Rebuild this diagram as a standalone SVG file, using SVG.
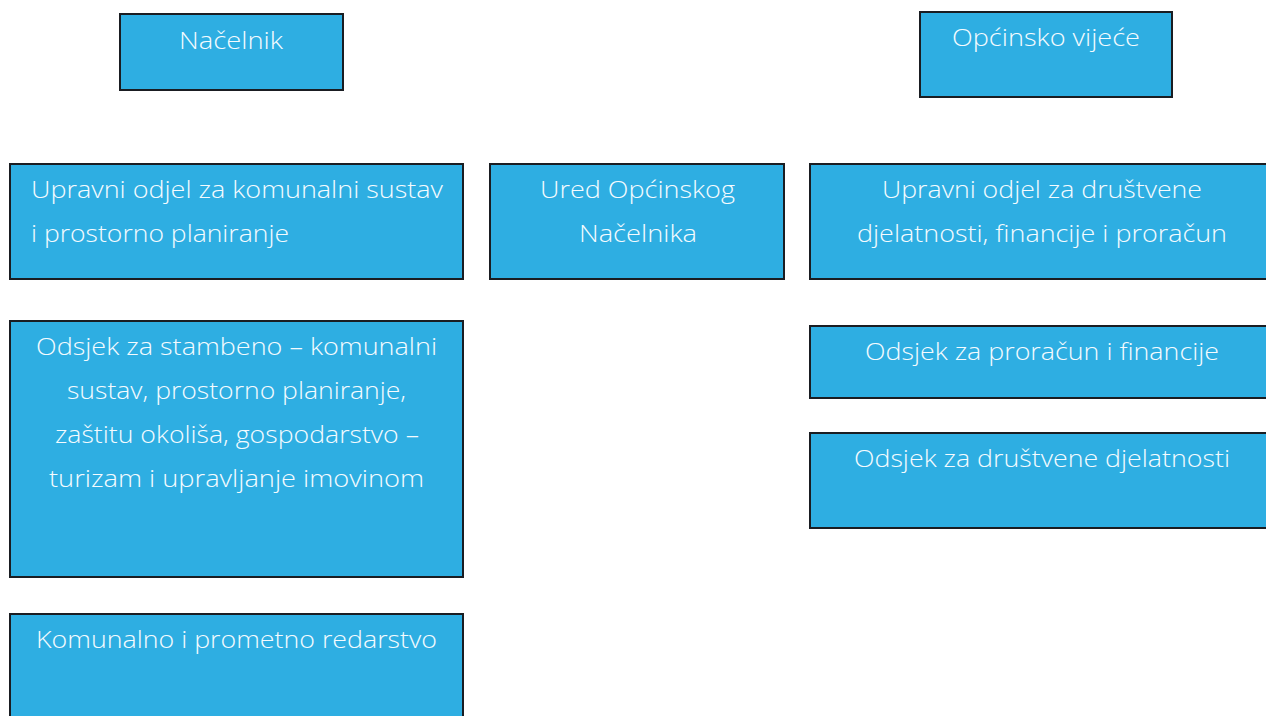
<svg xmlns="http://www.w3.org/2000/svg" width="1266" height="716" viewBox="0 0 1266 716">
<style>
.box{fill:#2eaee2;stroke:#1a1d22;stroke-width:2}
.t{font-family:"Open Sans","Noto Sans","Liberation Sans",sans-serif;font-size:24px;fill:#f4fbff;font-weight:300}
.c{text-anchor:middle}
</style>
<rect width="1266" height="716" fill="#ffffff"/>
<g id="connectors"></g>
<g id="nacelnik">
<rect class="box" x="120" y="14" width="223" height="76"/>
<text class="t c" x="231" y="49" textLength="104" lengthAdjust="spacingAndGlyphs">Načelnik</text>
</g>
<g id="opcinsko-vijece">
<rect class="box" x="920" y="12" width="252" height="85"/>
<text class="t c" x="1046" y="46" textLength="188" lengthAdjust="spacingAndGlyphs">Općinsko vijeće</text>
</g>
<g id="upravni-komunalni">
<rect class="box" x="10" y="164" width="453" height="115"/>
<text class="t" x="31" y="198" textLength="412" lengthAdjust="spacingAndGlyphs">Upravni odjel za komunalni sustav</text>
<text class="t" x="31" y="242" textLength="258" lengthAdjust="spacingAndGlyphs">i prostorno planiranje</text>
</g>
<g id="ured">
<rect class="box" x="490" y="164" width="294" height="115"/>
<text class="t c" x="637.5" y="198" textLength="195" lengthAdjust="spacingAndGlyphs">Ured Općinskog</text>
<text class="t c" x="638" y="242" textLength="118" lengthAdjust="spacingAndGlyphs">Načelnika</text>
</g>
<g id="upravni-drustvene">
<rect class="box" x="810" y="164" width="480" height="115"/>
<text class="t c" x="1042" y="198" textLength="320" lengthAdjust="spacingAndGlyphs">Upravni odjel za društvene</text>
<text class="t c" x="1042" y="242" textLength="370" lengthAdjust="spacingAndGlyphs">djelatnosti, financije i proračun</text>
</g>
<g id="odsjek-stambeno">
<rect class="box" x="10" y="321" width="453" height="256"/>
<text class="t c" x="236.5" y="355" textLength="401" lengthAdjust="spacingAndGlyphs">Odsjek za stambeno – komunalni</text>
<text class="t c" x="236.5" y="399" textLength="339" lengthAdjust="spacingAndGlyphs">sustav, prostorno planiranje,</text>
<text class="t c" x="237" y="443" textLength="364" lengthAdjust="spacingAndGlyphs">zaštitu okoliša, gospodarstvo –</text>
<text class="t c" x="236.5" y="487" textLength="375" lengthAdjust="spacingAndGlyphs">turizam i upravljanje imovinom</text>
</g>
<g id="odsjek-proracun">
<rect class="box" x="810" y="326" width="480" height="72"/>
<text class="t c" x="1042" y="360" textLength="354" lengthAdjust="spacingAndGlyphs">Odsjek za proračun i financije</text>
</g>
<g id="odsjek-drustvene">
<rect class="box" x="810" y="433" width="480" height="95"/>
<text class="t c" x="1042" y="467" textLength="376" lengthAdjust="spacingAndGlyphs">Odsjek za društvene djelatnosti</text>
</g>
<g id="komunalno-redarstvo">
<rect class="box" x="10" y="614" width="453" height="120"/>
<text class="t c" x="236.5" y="648" textLength="401" lengthAdjust="spacingAndGlyphs">Komunalno i prometno redarstvo</text>
</g>
</svg>
